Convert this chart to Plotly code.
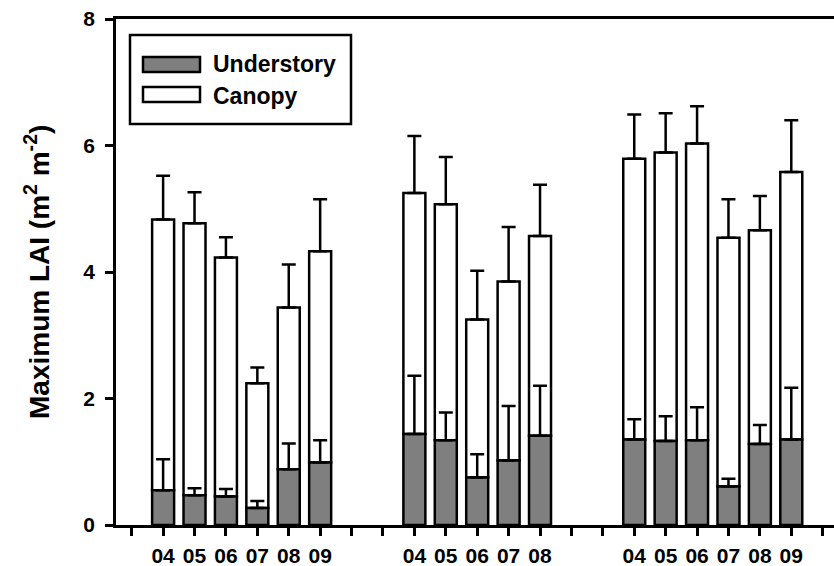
import plotly.graph_objects as go

# Year labels for each of the three stand groups
group1_years = ["04", "05", "06", "07", "08", "09"]
group2_years = ["04", "05", "06", "07", "08"]
group3_years = ["04", "05", "06", "07", "08", "09"]

# Understory maximum LAI and its standard error
understory1 = [0.55, 0.47, 0.45, 0.27, 0.88, 0.99]
understory_err1 = [0.49, 0.11, 0.12, 0.11, 0.41, 0.35]
understory2 = [1.44, 1.34, 0.75, 1.02, 1.41]
understory_err2 = [0.92, 0.44, 0.37, 0.86, 0.79]
understory3 = [1.35, 1.33, 1.34, 0.61, 1.28, 1.35]
understory_err3 = [0.32, 0.39, 0.52, 0.12, 0.30, 0.82]

# Canopy maximum LAI (stacked on the understory) and its standard error
canopy1 = [4.28, 4.30, 3.78, 1.97, 2.56, 3.34]
canopy_err1 = [0.69, 0.49, 0.32, 0.25, 0.68, 0.82]
canopy2 = [3.81, 3.73, 2.50, 2.83, 3.16]
canopy_err2 = [0.90, 0.75, 0.77, 0.86, 0.81]
canopy3 = [4.44, 4.56, 4.69, 3.93, 3.38, 4.23]
canopy_err3 = [0.70, 0.62, 0.59, 0.61, 0.54, 0.82]

y_ticks = [0, 2, 4, 6, 8]

groups = [group1_years, group2_years, group3_years]
understory = understory1 + understory2 + understory3
understory_err = understory_err1 + understory_err2 + understory_err3
canopy = canopy1 + canopy2 + canopy3
canopy_err = canopy_err1 + canopy_err2 + canopy_err3

# Slot positions: one empty slot before the first group, two empty slots between groups
positions, labels = [], []
slot = 1
for years in groups:
    for yr in years:
        positions.append(slot)
        labels.append(yr)
        slot += 1
    slot += 2
n_slots = slot - 1
tick_vals = list(range(n_slots))
tick_text = [labels[positions.index(v)] if v in positions else "" for v in tick_vals]

FONT = "Liberation Sans, Arial, Helvetica, sans-serif"
GREY = "#7f7f7f"
BAR_W = 0.7
EDGE = 2.5

fig = go.Figure()

# Canopy layer first so that the understory error bars sit on top of it
fig.add_trace(go.Bar(
    x=positions, y=canopy, base=understory, width=BAR_W,
    marker=dict(color="white", line=dict(color="black", width=EDGE)),
    error_y=dict(type="data", symmetric=False, array=canopy_err,
                 arrayminus=[0] * len(canopy), color="black", thickness=2.5, width=7),
    name="Canopy", showlegend=False,
))
fig.add_trace(go.Bar(
    x=positions, y=understory, width=BAR_W,
    marker=dict(color=GREY, line=dict(color="black", width=EDGE)),
    error_y=dict(type="data", symmetric=False, array=understory_err,
                 arrayminus=[0] * len(understory), color="black", thickness=2.5, width=7),
    name="Understory", showlegend=False,
))

W, H = 834, 566
L, R, T, B = 116, 0, 19, 41
pw, ph = W - L - R, H - T - B


def px(x):
    return (x - L) / pw


def py(y):
    return (H - B - y) / ph


# Framed key drawn in paper space
shapes = [
    dict(type="rect", xref="paper", yref="paper", x0=px(130), x1=px(351), y0=py(124), y1=py(35),
         line=dict(color="black", width=2.5), fillcolor="white", layer="above"),
    dict(type="rect", xref="paper", yref="paper", x0=px(143), x1=px(200), y0=py(72), y1=py(57),
         line=dict(color="black", width=2.5), fillcolor=GREY, layer="above"),
    dict(type="rect", xref="paper", yref="paper", x0=px(143), x1=px(200), y0=py(102), y1=py(87),
         line=dict(color="black", width=2.5), fillcolor="white", layer="above"),
]
annotations = [
    dict(xref="paper", yref="paper", x=px(211), y=py(64), text="Understory", showarrow=False,
         xanchor="left", yanchor="middle", font=dict(family=FONT, size=23, color="black", weight="bold")),
    dict(xref="paper", yref="paper", x=px(211), y=py(96), text="Canopy", showarrow=False,
         xanchor="left", yanchor="middle", font=dict(family=FONT, size=23, color="black", weight="bold")),
    dict(xref="paper", yref="paper", x=px(37), y=0.5, textangle=-90,
         text="Maximum LAI (m<sup>2</sup> m<sup>-2</sup>)", showarrow=False,
         xanchor="center", yanchor="middle", font=dict(family=FONT, size=28, color="black", weight="bold")),
]

fig.update_layout(
    width=W, height=H,
    margin=dict(l=L, r=R, t=T, b=B, pad=0),
    paper_bgcolor="white", plot_bgcolor="white",
    barmode="overlay",
    shapes=shapes, annotations=annotations,
    font=dict(family=FONT, color="black"),
)
fig.update_xaxes(
    range=[-0.5, 22.36], tickmode="array", tickvals=tick_vals, ticktext=tick_text,
    ticks="outside", ticklen=8, tickwidth=2.5, tickcolor="black",
    showline=True, linewidth=2.5, linecolor="black", mirror=True,
    showgrid=False, zeroline=False, automargin=False,
    tickfont=dict(family=FONT, size=21, color="black", weight="bold"),
    ticklabelstandoff=2,
)
fig.update_yaxes(
    range=[0, 8], tickmode="array", tickvals=y_ticks,
    ticks="outside", ticklen=8, tickwidth=2.5, tickcolor="black",
    showline=True, linewidth=2.5, linecolor="black",
    showgrid=False, zeroline=False, automargin=False,
    tickfont=dict(family=FONT, size=21, color="black", weight="bold"),
    ticklabelstandoff=6,
)

fig.write_html("out.html")
